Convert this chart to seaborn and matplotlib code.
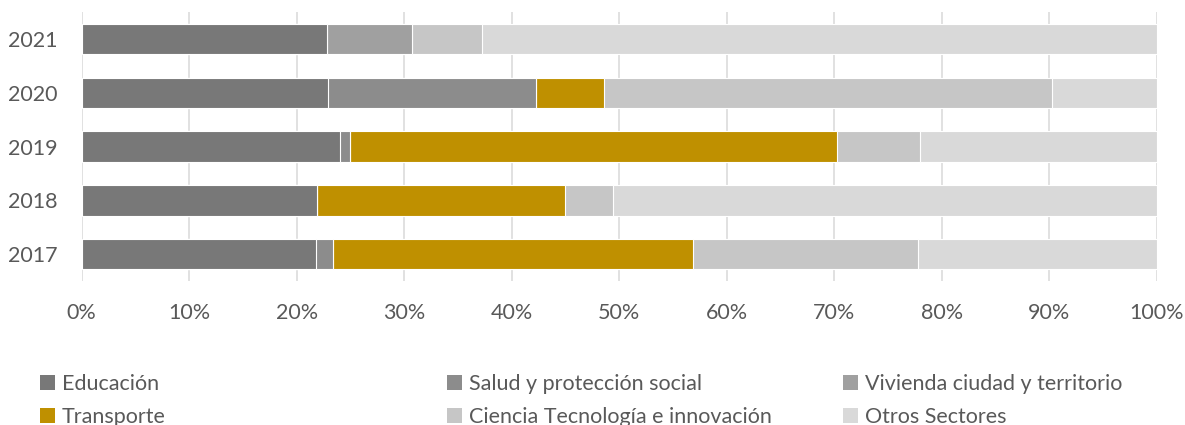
import pandas as pd
import matplotlib
matplotlib.use("Agg")
import matplotlib.pyplot as plt
from matplotlib.patches import Patch
import seaborn as sns

# Years, top to bottom
years = ["2021", "2020", "2019", "2018", "2017"]
sectors = ["Educación", "Salud y protección social", "Vivienda ciudad y territorio",
           "Transporte", "Ciencia Tecnología e innovación", "Otros Sectores"]

# Share of each sector in the yearly total (%), in the order of `years`
educacion = [22.85, 22.9, 24.0, 21.9, 21.85]
salud = [0.0, 19.35, 1.0, 0.0, 1.5]
vivienda = [7.9, 0.0, 0.0, 0.0, 0.0]
transporte = [0.0, 6.35, 45.2, 23.05, 33.55]
ciencia = [6.5, 41.6, 7.75, 4.45, 20.9]
otros = [62.75, 9.8, 22.05, 50.6, 22.2]

x_ticks = [0, 10, 20, 30, 40, 50, 60, 70, 80, 90, 100]
x_tick_labels = ["0%", "10%", "20%", "30%", "40%", "50%", "60%", "70%", "80%", "90%", "100%"]

colors = ["#787878", "#8c8c8c", "#a0a0a0", "#bf9000", "#c6c6c6", "#d9d9d9"]
text_color = "#595959"

sns.set_theme(style="white")
plt.rcParams["font.family"] = ["Lato", "DejaVu Sans"]

series = [educacion, salud, vivienda, transporte, ciencia, otros]
wide = pd.DataFrame(dict(zip(sectors, series)), index=years)
ends = wide.cumsum(axis=1)
long = ends.reset_index(names="year").melt(id_vars="year", var_name="sector", value_name="end")

fig = plt.figure(figsize=(11.85, 4.25), dpi=100)
ax = fig.add_axes([81.5 / 1185, 1 - 281 / 425, (1157 - 81.5) / 1185, (281 - 12.3) / 425])

# Stacked bars: draw cumulative totals from the last sector backwards
for sector, color in reversed(list(zip(sectors, colors))):
    sub = long[long["sector"] == sector]
    sns.barplot(data=sub, x="end", y="year", order=years, color=color,
                saturation=1, width=0.57, edgecolor="white", linewidth=0.8,
                errorbar=None, orient="h", ax=ax, zorder=2)

ax.set_xlim(0, 100)
ax.set_ylim(4.5, -0.5)
ax.set_xticks(x_ticks)
ax.set_xticklabels(x_tick_labels)
ax.set_xlabel("")
ax.set_ylabel("")
ax.xaxis.grid(True, color="#d9d9d9", linewidth=1.1, zorder=0)
ax.yaxis.grid(False)
ax.set_axisbelow(True)
for s in ax.spines.values():
    s.set_visible(False)
ax.tick_params(axis="x", length=0, pad=15.5, labelsize=15.5, labelcolor=text_color)
ax.tick_params(axis="y", length=0, pad=17, labelsize=15.5, labelcolor=text_color)

# Legend: three columns of two entries
handles = [Patch(facecolor=c, edgecolor="none") for c in colors]
col_x = [40, 447, 843]
groups = [(0, 3), (1, 4), (2, 5)]
for cx, (i, j) in zip(col_x, groups):
    fig.legend([handles[i], handles[j]], [sectors[i], sectors[j]],
               loc="upper left", bbox_to_anchor=(cx / 1185, 1 - 374 / 425),
               frameon=False, borderpad=0, borderaxespad=0,
               handlelength=0.7, handleheight=0.7, handletextpad=0.3,
               labelspacing=0.62, fontsize=15.5, labelcolor=text_color)

fig.savefig("out.png", dpi=100)
